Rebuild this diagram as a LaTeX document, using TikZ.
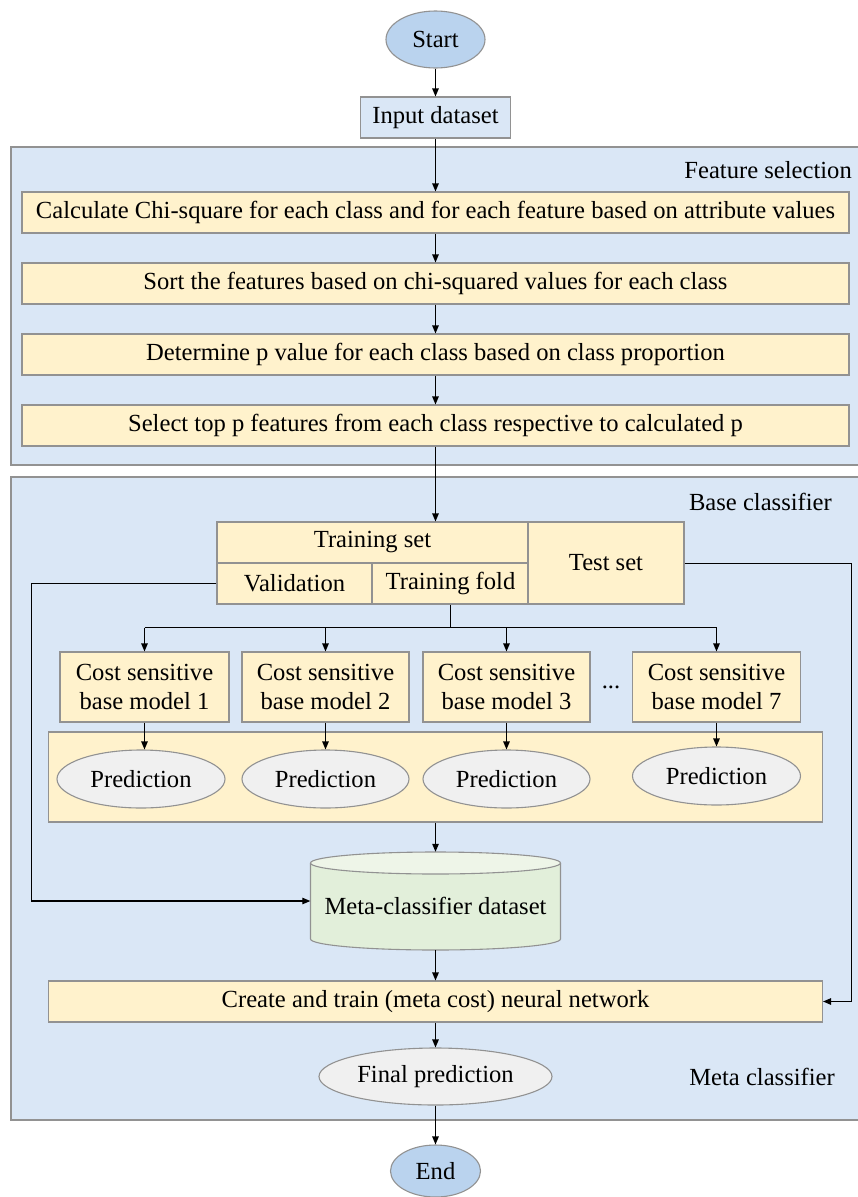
\documentclass[tikz,border=0pt]{standalone}
\usepackage{fontspec}
\setmainfont{Liberation Serif}
\usetikzlibrary{shapes.geometric,arrows.meta,calc}
\definecolor{panelblue}{HTML}{DAE7F6}
\definecolor{yellowfill}{HTML}{FFF2CC}
\definecolor{startblue}{HTML}{BAD3EE}
\definecolor{greyfill}{HTML}{F0F0F0}
\definecolor{bordergrey}{HTML}{929292}
\definecolor{cylbody}{HTML}{E2EFDA}
\definecolor{cyltop}{HTML}{EEF5E8}
\begin{document}
\begin{tikzpicture}[x=1pt,y=-1pt,
  txt/.style={font=\fontsize{24.6}{29.5}\selectfont, text=black},
  panelbox/.style={draw=bordergrey, line width=1.1pt, fill=panelblue, inner sep=0pt},
  ybox/.style={txt, draw=bordergrey, line width=1.1pt, fill=yellowfill, inner sep=0pt, minimum height=41pt},
  bbox/.style={txt, draw=bordergrey, line width=1.1pt, fill=panelblue, inner sep=0pt, minimum height=41pt},
  term/.style={txt, ellipse, draw=bordergrey, line width=1.1pt, fill=startblue, inner sep=0pt},
  gell/.style={txt, ellipse, draw=bordergrey, line width=1.1pt, fill=greyfill, inner sep=0pt},
  lbl/.style={txt, inner sep=0pt, anchor=east},
  conn/.style={line width=1.1pt, -{Triangle[length=8pt,width=6.5pt]}},
  line/.style={line width=1.1pt}
]
\useasboundingbox (0,0) rectangle (858,1197);
\fill[white] (0,0) rectangle (858,1197);

% panels
\node[panelbox, minimum width=850pt, minimum height=318pt] (p1) at (436,306) {};
\node[panelbox, minimum width=850pt, minimum height=643pt] (p2) at (436,798.5) {};
\node[lbl] (lfs) at (852,170) {Feature selection};
\node[lbl] (lbc) at (832,502) {Base classifier};
\node[lbl] (lmc) at (835,1077) {Meta classifier};

% top
\node[term, minimum width=99pt, minimum height=57pt] (start) at (435.5,39.5) {Start};
\node[bbox, minimum width=150pt] (input) at (435.5,117.5) {Input dataset};

% feature selection steps
\node[ybox, minimum width=827pt] (f1) at (435.5,212.5) {Calculate Chi-square for each class and for each feature based on attribute values};
\node[ybox, minimum width=827pt] (f2) at (435.5,283.5) {Sort the features based on chi-squared values for each class};
\node[ybox, minimum width=827pt] (f3) at (435.5,354.5) {Determine p value for each class based on class proportion};
\node[ybox, minimum width=827pt] (f4) at (435.5,425.5) {Select top p features from each class respective to calculated p};

% training block
\node[ybox, minimum width=311pt] (trainset) at (372.5,542.5) {Training set};
\node[ybox, minimum width=155pt] (valid) at (294.5,583.5) {Validation};
\node[ybox, minimum width=156pt] (tfold) at (450.5,583.5) {Training fold};
\node[ybox, minimum width=156pt, minimum height=82pt] (testset) at (606,563) {Test set};

% base models
\node[ybox, minimum width=169pt, minimum height=70pt, align=center] (b1) at (144.5,687) {Cost sensitive\\base model 1};
\node[ybox, minimum width=167pt, minimum height=70pt, align=center] (b2) at (325.5,687) {Cost sensitive\\base model 2};
\node[ybox, minimum width=167pt, minimum height=70pt, align=center] (b3) at (506.5,687) {Cost sensitive\\base model 3};
\node[ybox, minimum width=168pt, minimum height=70pt, align=center] (b7) at (716.5,687) {Cost sensitive\\base model 7};
\node[txt, inner sep=0pt] (dots) at (611,687) {...};

% predictions
\node[ybox, minimum width=774pt, minimum height=90pt] (pp) at (435.5,777) {};
\node[gell, minimum width=168pt, minimum height=58pt] (pr1) at (141,779) {Prediction};
\node[gell, minimum width=167pt, minimum height=58pt] (pr2) at (325.5,779) {Prediction};
\node[gell, minimum width=167pt, minimum height=58pt] (pr3) at (506.5,779) {Prediction};
\node[gell, minimum width=168pt, minimum height=58pt] (pr7) at (716.5,776) {Prediction};

% cylinder
\fill[cylbody] (310.5,863) -- (310.5,939) arc[start angle=180,end angle=0,x radius=125,y radius=11] -- (560.5,863) -- cycle;
\draw[bordergrey, line width=1.1pt] (310.5,863) -- (310.5,939) arc[start angle=180,end angle=0,x radius=125,y radius=11] -- (560.5,863);
\draw[bordergrey, line width=1.1pt, fill=cyltop] (435.5,863) ellipse[x radius=125,y radius=11];
\node[inner sep=0pt, minimum width=250pt, minimum height=98pt] (cyl) at (435.5,901) {};
\node[txt, inner sep=0pt] (cyltext) at (435.5,906) {Meta-classifier dataset};

% meta part
\node[ybox, minimum width=774pt] (create) at (435.5,1001.5) {Create and train (meta cost) neural network};
\node[gell, minimum width=233pt, minimum height=57pt] (final) at (435.5,1076.5) {Final prediction};
\node[term, minimum width=90pt, minimum height=52pt] (end) at (435.5,1171) {End};

% connectors
\draw[conn] (start) -- (input);
\draw[conn] (input) -- (f1);
\draw[conn] (f1) -- (f2);
\draw[conn] (f2) -- (f3);
\draw[conn] (f3) -- (f4);
\draw[conn] (f4.south) -- (f4.south |- trainset.north);

\coordinate (br) at (450.5,627.5);
\draw[line] (tfold.south) -- (br);
\draw[line] (b1.north |- br) -- (b7.north |- br);
\draw[conn] (b1.north |- br) -- (b1.north);
\draw[conn] (b2.north |- br) -- (b2.north);
\draw[conn] (b3.north |- br) -- (b3.north);
\draw[conn] (b7.north |- br) -- (b7.north);

\draw[conn] (b1.south) -- (b1.south |- pr1.north);
\draw[conn] (b2.south) -- (pr2.north);
\draw[conn] (b3.south) -- (pr3.north);
\draw[conn] (b7.south) -- (pr7.north);

\coordinate (vl) at (31.5,583.5);
\draw[conn] (valid.west) -- (vl) |- (cyl.west);
\coordinate (tr) at (851.5,563.5);
\draw[conn] (testset.east |- tr) -- (tr) |- (create.east);

\draw[conn] (pp.south) -- (cyl.north);
\draw[conn] (cyl.south) -- (create.north);
\draw[conn] (create.south) -- (final.north);
\draw[conn] (final.south) -- (end.north);
\end{tikzpicture}
\end{document}
